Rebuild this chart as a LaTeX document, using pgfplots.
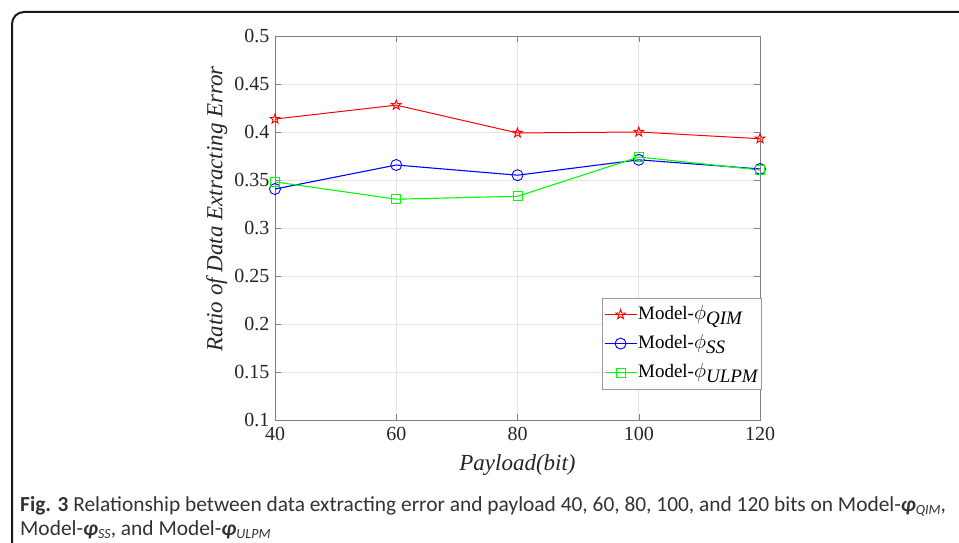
\documentclass[border=0pt]{standalone}
\usepackage{pgfplots}
\pgfplotsset{compat=1.18}
\usepackage{fontspec}
\setmainfont{Liberation Serif}
\newfontfamily\capfont{Carlito}
\pgfdeclareplotmark{pentagram}{%
  \pgfpathmoveto{\pgfpointpolar{90}{\pgfplotmarksize}}%
  \pgfpathlineto{\pgfpointpolar{126}{0.4\pgfplotmarksize}}%
  \pgfpathlineto{\pgfpointpolar{162}{\pgfplotmarksize}}%
  \pgfpathlineto{\pgfpointpolar{198}{0.4\pgfplotmarksize}}%
  \pgfpathlineto{\pgfpointpolar{234}{\pgfplotmarksize}}%
  \pgfpathlineto{\pgfpointpolar{270}{0.4\pgfplotmarksize}}%
  \pgfpathlineto{\pgfpointpolar{306}{\pgfplotmarksize}}%
  \pgfpathlineto{\pgfpointpolar{342}{0.4\pgfplotmarksize}}%
  \pgfpathlineto{\pgfpointpolar{18}{\pgfplotmarksize}}%
  \pgfpathlineto{\pgfpointpolar{54}{0.4\pgfplotmarksize}}%
  \pgfpathclose\pgfusepathqstroke}
\newcommand{\sub}[1]{\textit{#1}}
\begin{document}
\begin{tikzpicture}
\path[use as bounding box] (0,0) rectangle (959bp,543bp);
\fill[white] (0,0) rectangle (959bp,543bp);
\draw[line width=2bp, rounded corners=12bp, color=black!90] (12bp,0) -- (12bp,531bp) -- (959bp,531bp);
\begin{axis}[
  at={(275bp,123bp)}, anchor=south west,
  width=485bp, height=384bp, scale only axis,
  xmin=40, xmax=120, ymin=0.1, ymax=0.5,
  xtick={40,60,80,100,120},
  ytick={0.1,0.15,0.2,0.25,0.3,0.35,0.4,0.45,0.5},
  yticklabel style={/pgf/number format/fixed, /pgf/number format/precision=2, xshift=-2bp},
  xticklabel style={yshift=-4bp},
  /pgf/number format/assume math mode=true,
  tick label style={font=\fontsize{20bp}{22bp}\selectfont, color=black!85},
  axis line style={color=black!50},
  tick style={color=black!50, major tick length=6bp},
  tick align=inside,
  grid=major, major grid style={color=black!10, line width=0.6bp},
  xlabel={\itshape Payload(bit)},
  ylabel={\itshape Ratio of Data Extracting Error},
  label style={font=\fontsize{23bp}{25bp}\selectfont, color=black!85},
  xlabel style={at={(axis description cs:0.5,-0.117)}, anchor=center},
  ylabel style={at={(axis description cs:-0.12,0.55)}, anchor=center},
  legend style={at={(1.003,0.318)}, anchor=north east, draw=black!40, font=\fontsize{19bp}{21bp}\selectfont, fill=white, inner sep=2bp, nodes={inner sep=1bp, text depth=9bp, text height=18bp}},
  legend image code/.code={\draw[mark repeat=2, mark phase=2, #1] plot coordinates {(0bp,0bp) (16bp,0bp) (32bp,0bp)};},
  legend cell align=left,
]
\addplot[color=red, line width=1bp, mark=pentagram, mark size=5bp, mark options={line width=0.9bp}] coordinates {(40,0.4135) (60,0.428) (80,0.399) (100,0.400) (120,0.393)};
\addlegendentry{Model-$\phi_{\sub{QIM}}$}
\addplot[color=blue, line width=1.1bp, mark=o, mark size=5.5bp, mark options={line width=0.9bp}] coordinates {(40,0.3406) (60,0.3656) (80,0.355) (100,0.371) (120,0.3615)};
\addlegendentry{Model-$\phi_{\sub{SS}}$}
\addplot[color=green, line width=1.1bp, mark=square, mark size=4.5bp, mark options={line width=0.9bp}] coordinates {(40,0.348) (60,0.330) (80,0.333) (100,0.374) (120,0.3604)};
\addlegendentry{Model-$\phi_{\sub{ULPM}}$}
\end{axis}
\node[anchor=base west, inner sep=0, font=\capfont\fontsize{21.4bp}{24bp}\selectfont, color=black!80] at (20bp,32bp) {\textbf{Fig. 3} Relationship between data extracting error and payload 40, 60, 80, 100, and 120 bits on Model-{\bfseries\itshape φ}{\itshape\fontsize{14bp}{15bp}\selectfont\raisebox{-3bp}{QIM}},};
\node[anchor=base west, inner sep=0, font=\capfont\fontsize{21.4bp}{24bp}\selectfont, color=black!80] at (20bp,8bp) {Model-{\bfseries\itshape φ}{\itshape\fontsize{14bp}{15bp}\selectfont\raisebox{-3bp}{SS}}, and Model-{\bfseries\itshape φ}{\itshape\fontsize{14bp}{15bp}\selectfont\raisebox{-3bp}{ULPM}}};
\end{tikzpicture}
\end{document}
